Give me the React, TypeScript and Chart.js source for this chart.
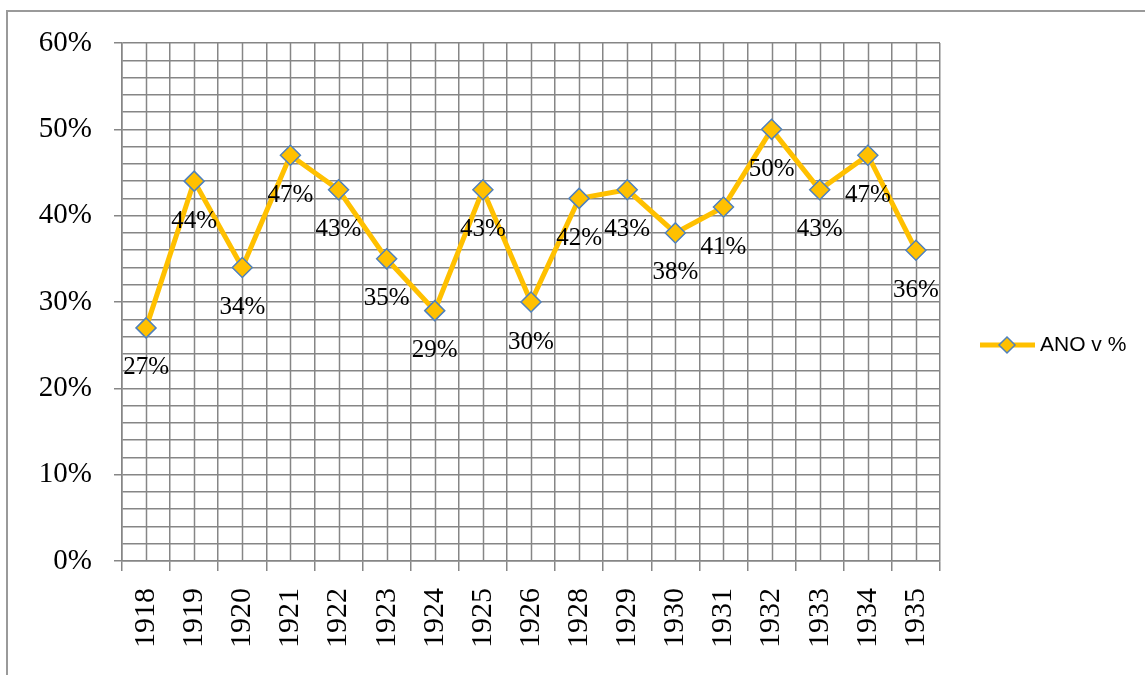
import React, { useEffect, useRef } from "react";
import { Chart, registerables } from "chart.js";

Chart.register(...registerables);

const years = ["1918", "1919", "1920", "1921", "1922", "1923", "1924", "1925", "1926", "1928", "1929", "1930", "1931", "1932", "1933", "1934", "1935"];
const anoValues = [27, 44, 34, 47, 43, 35, 29, 43, 30, 42, 43, 38, 41, 50, 43, 47, 36];
const seriesName = "ANO v %";

const GRID = "#868686";
const LINE = "#FFC000";
const MARK_BORDER = "#4F81BD";

export default function App() {
  const ref = useRef<HTMLCanvasElement | null>(null);

  useEffect(() => {
    if (!ref.current) return;

    const extras = {
      id: "extras",
      beforeDraw(chart: any) {
        const ctx = chart.ctx;
        ctx.save();
        ctx.strokeStyle = "#9a9a9a";
        ctx.lineWidth = 2;
        ctx.beginPath();
        ctx.moveTo(7, 675);
        ctx.lineTo(7, 11);
        ctx.lineTo(1145, 11);
        ctx.stroke();
        ctx.restore();
      },
      beforeDatasetsDraw(chart: any) {
        const ctx = chart.ctx;
        const xs = chart.scales.x;
        const area = chart.chartArea;
        ctx.save();
        ctx.strokeStyle = GRID;
        ctx.lineWidth = 1.5;
        for (let i = 0; i < years.length; i++) {
          const px = Math.round(xs.getPixelForValue(i)) + 0.5;
          ctx.beginPath();
          ctx.moveTo(px, area.top);
          ctx.lineTo(px, area.bottom);
          ctx.stroke();
        }
        ctx.restore();
      },
      afterDatasetsDraw(chart: any) {
        const ctx = chart.ctx;
        const meta = chart.getDatasetMeta(0);
        ctx.save();
        ctx.font = "25px 'Liberation Serif'";
        ctx.fillStyle = "#000";
        ctx.textAlign = "center";
        ctx.textBaseline = "middle";
        meta.data.forEach((pt: any, i: number) => {
          ctx.fillText(anoValues[i] + "%", pt.x, pt.y + 40);
        });
        // legend
        const ly = 345;
        ctx.strokeStyle = LINE;
        ctx.lineWidth = 5;
        ctx.beginPath();
        ctx.moveTo(980, ly);
        ctx.lineTo(1035, ly);
        ctx.stroke();
        ctx.fillStyle = LINE;
        ctx.strokeStyle = MARK_BORDER;
        ctx.lineWidth = 1.5;
        ctx.beginPath();
        ctx.moveTo(1007, ly - 8);
        ctx.lineTo(1015, ly);
        ctx.lineTo(1007, ly + 8);
        ctx.lineTo(999, ly);
        ctx.closePath();
        ctx.fill();
        ctx.stroke();
        ctx.fillStyle = "#000";
        ctx.font = "21px 'Liberation Sans'";
        ctx.textAlign = "left";
        ctx.fillText(seriesName, 1040, ly);
        ctx.restore();
      },
    };

    const chart = new Chart(ref.current, {
      type: "line",
      data: {
        labels: years,
        datasets: [
          {
            label: seriesName,
            data: anoValues,
            borderColor: LINE,
            borderWidth: 5,
            backgroundColor: LINE,
            pointStyle: "rectRot",
            pointRadius: 10,
            pointBackgroundColor: LINE,
            pointBorderColor: MARK_BORDER,
            pointBorderWidth: 1.5,
            tension: 0,
          },
        ],
      },
      options: {
        animation: false,
        responsive: false,
        layout: { padding: { left: 0, top: 43, right: 205, bottom: 0 } },
        plugins: { legend: { display: false }, tooltip: { enabled: false } },
        scales: {
          x: {
            offset: true,
            grid: { offset: true, color: GRID, lineWidth: 1.5, tickLength: 10, tickColor: GRID },
            border: { color: GRID, width: 1.5 },
            ticks: {
              maxRotation: 90,
              minRotation: 90,
              padding: 17,
              color: "#000",
              font: { family: "'Liberation Serif'", size: 30 },
              autoSkip: false,
            },
            afterFit(scale: any) {
              scale.height = 114;
            },
          },
          y: {
            min: 0,
            max: 60,
            grid: {
              color: GRID,
              lineWidth: 1.5,
              tickLength: 8,
              tickColor: (c: any) => (c.tick && c.tick.value % 10 === 0 ? GRID : "transparent"),
            },
            border: { color: GRID, width: 1.5 },
            ticks: {
              stepSize: 2,
              autoSkip: false,
              padding: 22,
              color: "#000",
              font: { family: "'Liberation Serif'", size: 29 },
              callback: (v: any) => (Number(v) % 10 === 0 ? v + "%" : ""),
            },
            afterFit(scale: any) {
              scale.width = 122;
            },
          },
        },
      },
      plugins: [extras],
    });
    return () => chart.destroy();
  }, []);

  return (
    <div style={{ position: "fixed", left: 0, top: 0, width: 1145, height: 675, background: "#fff" }}>
      <canvas ref={ref} width={1145} height={675} style={{ width: 1145, height: 675, display: "block" }} />
    </div>
  );
}
